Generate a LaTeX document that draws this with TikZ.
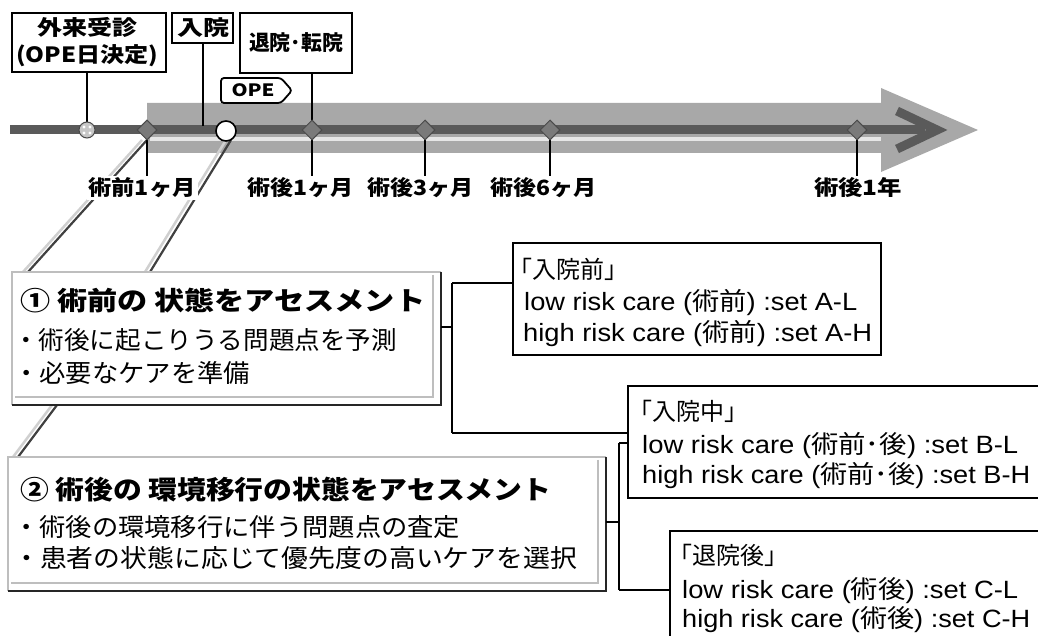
\documentclass[tikz,border=0pt]{standalone}
\usepackage{fontspec}
\usepackage{graphicx}
\setmainfont{Liberation Sans}
\newfontfamily\jp{Noto Sans CJK JP}
\usetikzlibrary{shapes.geometric}
\newsavebox\fitbox
\newlength\fitlen
\newcommand\fitto[2]{\sbox\fitbox{#2}\setlength\fitlen{\wd\fitbox}\pgfmathsetmacro\fitr{#1/\fitlen}\scalebox{\fitr}[1]{\usebox\fitbox}}
\definecolor{arrowgray}{HTML}{A8A8A8}
\definecolor{linedark}{HTML}{5A5A5A}
\definecolor{markgray}{HTML}{7A7A7A}
\definecolor{markedge}{HTML}{4A4A4A}
\definecolor{boxlite}{HTML}{BEBEBE}
\definecolor{diagshade}{HTML}{D0D0D0}
\definecolor{stripe}{HTML}{E6E6E6}
\tikzset{
  topbox/.style={draw=black, line width=1.8pt, fill=white, inner sep=0pt},
  rbox/.style={draw=black, line width=1.6pt, fill=white, inner sep=0pt},
  abox/.style={fill=white, inner sep=0pt},
  litedge/.style={draw=boxlite, line width=1.6pt},
  darkedge/.style={draw=black!85, line width=2.2pt},
  conn/.style={draw=black, line width=1.8pt},
  brk/.style={draw=black, line width=1.6pt},
  diag/.style={draw=black!75, line width=2.2pt},
  diagsh/.style={draw=diagshade, line width=2.5pt},
  tl/.style={font=\jp\bfseries\fontsize{21}{24}\selectfont, inner sep=0pt},
  tlab/.style={font=\jp\bfseries\fontsize{21}{24}\selectfont, fill=white, inner sep=2pt},
  ttl/.style={font=\jp\bfseries\fontsize{26}{30}\selectfont, inner sep=0pt, anchor=west},
  bul/.style={font=\jp\fontsize{25}{30}\selectfont, inner sep=0pt, anchor=west},
  hdr/.style={font=\jp\fontsize{24}{28}\selectfont, inner sep=0pt, anchor=west},
  lat/.style={font=\fontsize{25}{30}\selectfont, inner sep=0pt, anchor=west},
  dmark/.style={diamond, minimum width=20pt, minimum height=20pt, inner sep=0pt, fill=markgray, draw=markedge, line width=1pt},
}
\begin{document}
\begin{tikzpicture}[x=1pt, y=-1pt]
\useasboundingbox (0,0) rectangle (1038,636);
\clip (0,0) rectangle (1038,636);

% marker positions
\coordinate (p0) at (87,130);
\coordinate (p1) at (147,130);
\coordinate (pw) at (226,131);
\coordinate (p2) at (312,130);
\coordinate (p3) at (425,130);
\coordinate (p4) at (550,130);
\coordinate (p5) at (857,130);
\coordinate (tl0) at (10,130);
\coordinate (tl1) at (925,130);

% big gray arrow
\fill[arrowgray] (147,103) -- (881,103) -- (881,88) -- (978,130) -- (881,172) -- (881,153) -- (147,153) -- cycle;
\draw[stripe, line width=4pt] (150,139) -- (881,139);
% dark timeline
\draw[linedark, line width=9pt] (tl0) -- (tl1);
\draw[linedark, line width=9pt, line join=miter] (897,111) -- (937,130) -- (897,149);

% top boxes
\node[topbox, minimum width=154pt, minimum height=59pt] (gai) at (89,42.5) {};
\node[topbox, minimum width=61pt, minimum height=30pt] (nyu) at (202.5,28) {};
\node[topbox, minimum width=112pt, minimum height=60pt] (tai) at (296,43) {};
\node[tl] (gaiT1) at (87,27) {\fitto{100}{外来受診}};
\node[tl] (gaiT2) at (87,56) {\fitto{142}{(OPE日決定)}};
\node[tl] (nyuT) at (203,28) {\fitto{52}{入院}};
\node[tl] (taiT) at (296,43) {\fitto{94}{退院･転院}};

\coordinate (nyuend) at (203,126);
\draw[conn] (gai.south -| p0) -- (p0);
\draw[conn] (nyu.south -| nyuend) -- (nyuend);
\draw[conn] (tai.south -| p2) -- (p2);

% OPE tag
\draw[line width=1.8pt, fill=white, rounded corners=3pt] (281,78) -- (221,78) -- (221,103) -- (281,103) -- (292,90.5) -- cycle;
\node[font=\jp\bfseries\fontsize{17}{20}\selectfont, inner sep=0pt] (ope) at (253,90.5) {\fitto{43}{OPE}};

% diagonal callout lines
\coordinate (g1a) at (147,140);
\coordinate (g1b) at (28,272);
\coordinate (g2a) at (231,140);
\coordinate (g2b) at (150,272);
\coordinate (g3a) at (57,405);
\coordinate (g3b) at (18,457);
\draw[diagsh] ([xshift=-5pt]g1a) -- ([xshift=-5pt]g1b);
\draw[diag] (g1a) -- (g1b);
\draw[diagsh] ([xshift=-5pt]g2a) -- ([xshift=-5pt]g2b);
\draw[diag] (g2a) -- (g2b);
\draw[diagsh] ([xshift=-5pt]g3a) -- ([xshift=-5pt]g3b);
\draw[diag] (g3a) -- (g3b);

% timeline labels
\node[tlab] (lab1) at (142,188) {\fitto{107}{術前1ヶ月}};
\node[tlab] (lab2) at (300,188) {\fitto{106}{術後1ヶ月}};
\node[tlab] (lab3) at (420,188) {\fitto{106}{術後3ヶ月}};
\node[tlab] (lab4) at (543,188) {\fitto{106}{術後6ヶ月}};
\node[tlab] (lab5) at (858,188) {\fitto{88}{術後1年}};
\draw[conn] (p1) -- (p1 |- lab1.north);
\draw[conn] (p2) -- (p2 |- lab2.north);
\draw[conn] (p3) -- (p3 |- lab3.north);
\draw[conn] (p4) -- (p4 |- lab4.north);
\draw[conn] (p5) -- (p5 |- lab5.north);

% markers
\node[circle, minimum size=16pt, inner sep=0pt, fill=gray!45, draw=markedge, line width=1pt] (m0) at (p0) {};
\fill[white] ([shift={(-3,-3)}]p0) circle (1.6pt) ([shift={(3,-3)}]p0) circle (1.6pt) ([shift={(-3,3)}]p0) circle (1.6pt) ([shift={(3,3)}]p0) circle (1.6pt);
\node[dmark] (m1) at (p1) {};
\node[circle, minimum size=20pt, inner sep=0pt, fill=white, draw=black, line width=1.6pt] (mw) at (pw) {};
\node[dmark] (m2) at (p2) {};
\node[dmark] (m3) at (p3) {};
\node[dmark] (m4) at (p4) {};
\node[dmark] (m5) at (p5) {};

% assessment boxes
\node[abox, minimum width=429pt, minimum height=133pt] (b1) at (226.5,338.5) {};
\draw[litedge] (b1.south west) |- (b1.north east);
\draw[darkedge] (b1.north east) |- (b1.south west);
\draw[litedge] ([shift={(-8,3)}]b1.north east) |- ([shift={(3,-8)}]b1.south west);
\node[abox, minimum width=598pt, minimum height=134pt] (b2) at (307,524) {};
\draw[litedge] (b2.south west) |- (b2.north east);
\draw[darkedge] (b2.north east) |- (b2.south west);
\draw[litedge] ([shift={(-8,3)}]b2.north east) |- ([shift={(3,-8)}]b2.south west);

\node[ttl] (t11) at (20,301) {\fitto{405}{① 術前の 状態をアセスメント}};
\node[bul] (t12) at (13,340) {\fitto{384}{・術後に起こりうる問題点を予測}};
\node[bul] (t13) at (13,373) {\fitto{237}{・必要なケアを準備}};
\node[ttl] (t21) at (20,490) {\fitto{531}{② 術後の 環境移行の状態をアセスメント}};
\node[bul] (t22) at (13,527) {\fitto{447}{・術後の環境移行に伴う問題点の査定}};
\node[bul] (t23) at (13,558) {\fitto{564}{・患者の状態に応じて優先度の高いケアを選択}};

% care set boxes
\node[rbox, minimum width=368pt, minimum height=112pt] (bA) at (697,299) {};
\node[rbox, minimum width=432pt, minimum height=112pt] (bB) at (844,442) {};
\node[rbox, minimum width=390pt, minimum height=129pt] (bC) at (865,595.5) {};

\node[hdr] (tA0) at (508,269) {「入院前」};
\node[lat] (tA1) at (524,303) {\fitto{333}{low risk care ({\jp 術前}) :set A-L}};
\node[lat] (tA2) at (523,334) {\fitto{349}{high risk care ({\jp 術前}) :set A-H}};
\node[hdr] (tB0) at (628,411) {「入院中」};
\node[lat] (tB1) at (642,446) {\fitto{376}{low risk care ({\jp 術前･後}) :set B-L}};
\node[lat] (tB2) at (642,476) {\fitto{388}{high risk care ({\jp 術前･後}) :set B-H}};
\node[hdr] (tC0) at (668,555) {「退院後」};
\node[lat] (tC1) at (682,591) {\fitto{336}{low risk care ({\jp 術後}) :set C-L}};
\node[lat] (tC2) at (682,620) {\fitto{348}{high risk care ({\jp 術後}) :set C-H}};

% brackets
\coordinate (j1) at (452,327);
\coordinate (j1t) at (452,283);
\coordinate (j1b) at (452,433);
\coordinate (j2) at (619,522);
\coordinate (j2t) at (619,443);
\coordinate (j2b) at (619,590);
\draw[brk] (b1.east |- j1) -- (j1);
\draw[brk] (j1t) -- (j1b);
\draw[brk] (j1t) -- (bA.west |- j1t);
\draw[brk] (j1b) -- (bB.west |- j1b);
\draw[brk] (b2.east |- j2) -- (j2);
\draw[brk] (j2t) -- (j2b);
\draw[brk] (j2t) -- (bB.west |- j2t);
\draw[brk] (j2b) -- (bC.west |- j2b);
\end{tikzpicture}
\end{document}
